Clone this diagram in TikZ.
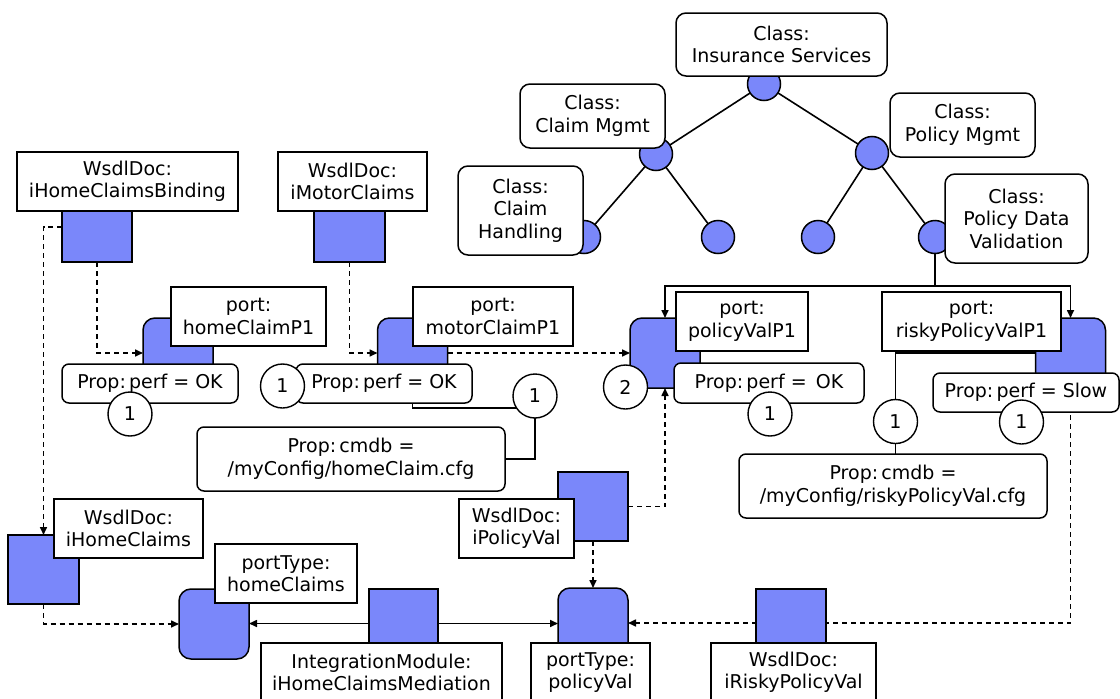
\documentclass[tikz,border=0pt]{standalone}
\usepackage{fontspec}
\setmainfont{DejaVu Sans}
\usetikzlibrary{arrows.meta,calc}
\definecolor{nodeblue}{RGB}{122,135,250}
\pgfdeclarelayer{background}
\pgfsetlayers{background,main}
\begin{document}
\begin{tikzpicture}[x=1pt,y=-1pt,
  font=\fontsize{19}{22.5}\selectfont,
  every node/.style={inner sep=0pt, outer sep=0pt, align=center},
  lbl/.style={draw, line width=1.5pt, fill=white},
  cls/.style={lbl, rounded corners=10pt},
  prop/.style={lbl, rounded corners=7pt},
  blk/.style={draw, line width=1.5pt, fill=nodeblue},
  port/.style={blk, rounded corners=12pt, minimum width=70pt, minimum height=70pt},
  leaf/.style={circle, blk, minimum size=33pt},
  num/.style={circle, draw, line width=1.4pt, fill=white, minimum size=44pt},
  link/.style={line width=1.6pt},
  dep/.style={link, dash pattern=on 5pt off 4pt},
  tip/.style={-{Triangle[length=8pt,width=7pt]}},
]
\useasboundingbox (0,0) rectangle (1120,699);

% ---- class hierarchy ----
\node[leaf] (t0) at (764,84) {};
\node[leaf] (t1) at (656,154) {};
\node[leaf] (t2) at (872,153) {};
\node[leaf] (t3) at (584,237) {};
\node[leaf] (t4) at (718,237) {};
\node[leaf] (t5) at (818,237) {};
\node[leaf] (t6) at (935,237) {};
\begin{pgfonlayer}{background}
\draw[link] (t0) -- (t1);
\draw[link] (t0) -- (t2);
\draw[link] (t1) -- (t3);
\draw[link] (t1) -- (t4);
\draw[link] (t2) -- (t5);
\draw[link] (t2) -- (t6);
\end{pgfonlayer}

\node[cls, minimum width=211pt, minimum height=63pt] (ins) at (781.5,44.5) {Class:\\Insurance Services};
\node[cls, minimum width=145pt, minimum height=64pt] (cm) at (592.5,116) {Class:\\Claim Mgmt};
\node[cls, minimum width=145pt, minimum height=64pt] (pm) at (962.5,125) {Class:\\Policy Mgmt};
\node[cls, minimum width=125pt, minimum height=89pt] (ch) at (520.5,210.5) {Class:\\Claim\\Handling};
\node[cls, minimum width=143pt, minimum height=89pt] (pdv) at (1016.5,218.5) {Class:\\Policy Data\\Validation};

% ---- blue blocks ----
\node[blk, minimum width=70pt, minimum height=51pt] (sA) at (97,236.5) {};
\node[blk, minimum width=71pt, minimum height=51pt] (sB) at (349.5,236.5) {};
\node[blk, minimum width=71pt, minimum height=69pt] (sC) at (43.5,569.5) {};
\node[blk, minimum width=70pt, minimum height=69pt] (sD) at (593,506.5) {};
\node[blk, minimum width=70pt, minimum height=69pt] (sE) at (791,623.5) {};
\node[blk, minimum width=69pt, minimum height=69pt] (sM) at (403.5,623.5) {};

\node[port] (q1) at (178,353) {};
\node[port] (q2) at (412.5,353) {};
\node[port] (q3) at (665,353) {};
\node[port] (q4) at (1070.5,353) {};
\node[port] (q5) at (214,624) {};
\node[port] (q6) at (593,623) {};

% ---- labels ----
\node[lbl, minimum width=221pt, minimum height=59pt] (wA) at (127.5,181.5) {WsdlDoc:\\iHomeClaimsBinding};
\node[lbl, minimum width=149pt, minimum height=59pt] (wB) at (352.5,181.5) {WsdlDoc:\\iMotorClaims};
\node[lbl, minimum width=149pt, minimum height=59pt] (wC) at (128.5,528.5) {WsdlDoc:\\iHomeClaims};
\node[lbl, minimum width=115pt, minimum height=59pt] (wD) at (516.5,528.5) {WsdlDoc:\\iPolicyVal};
\node[lbl, minimum width=165pt, minimum height=59pt] (wE) at (793.5,672.5) {WsdlDoc:\\iRiskyPolicyVal};

\node[lbl, minimum width=155pt, minimum height=59pt] (p1) at (248.5,316.5) {port:\\homeClaimP1};
\node[lbl, minimum width=160pt, minimum height=59pt] (p2) at (493,316.5) {port:\\motorClaimP1};
\node[lbl, minimum width=132pt, minimum height=59pt] (p3) at (742,321.5) {port:\\policyValP1};
\node[lbl, minimum width=179pt, minimum height=59pt] (p4) at (971.5,321.5) {port:\\riskyPolicyValP1};

\node[lbl, minimum width=142pt, minimum height=59pt] (pt1) at (286,573.5) {portType:\\homeClaims};
\node[lbl, minimum width=119pt, minimum height=59pt] (pt2) at (590.5,672.5) {portType:\\policyVal};
\node[lbl, minimum width=241pt, minimum height=59pt] (im) at (381.5,672.5) {IntegrationModule:\\iHomeClaimsMediation};

% ---- properties ----
\node[prop, minimum width=176pt, minimum height=39pt] (r1) at (150,383.5) {Prop:\,perf = OK};
\node[prop, minimum width=176pt, minimum height=39pt] (r2) at (384,383.5) {Prop:\,perf = OK};
\node[prop, minimum width=190pt, minimum height=40pt] (r3) at (769,383) {Prop:\,perf = \,OK};
\node[prop, minimum width=186pt, minimum height=39pt] (r4) at (1026,392.5) {Prop:\,perf = Slow};
\node[prop, minimum width=308pt, minimum height=64pt] (k1) at (351,459) {Prop:\,cmdb =\\/myConfig/homeClaim.cfg};
\node[prop, minimum width=308pt, minimum height=64pt] (k2) at (893,486) {Prop:\,cmdb =\\/myConfig/riskyPolicyVal.cfg};

% ---- multiplicities ----
\node[num] (n1) at (130,414) {1};
\node[num] (n2) at (282.5,386) {1};
\node[num] (n3) at (535,396) {1};
\node[num] (n4) at (625.5,387) {2};
\node[num] (n5) at (770,414) {1};
\node[num] (n6) at (895.5,421.5) {1};
\node[num] (n7) at (1021.5,422) {1};

% ---- connectors ----
\coordinate (split) at (935,286);
\begin{pgfonlayer}{background}
\draw[link] (t6) -- (split);
\draw[link,tip] (split) -| (q3.north);
\draw[link,tip] (split) -| (q4.north);

\draw[dep,tip] ($(sA.north west)!0.31!(sA.south west)$) -| (sC.north);
\draw[dep,tip] (sA.south) |- (q1.west);
\draw[dep,tip] (sB.south) |- (q2.west);
\draw[dep,tip] (q2.east) -- (q3.west);
\draw[dep,tip] (sD.east) -| (q3.south);
\draw[dep,tip] (sD.south) -- (q6.north);
\draw[dep,tip] (sC.south) |- (q5.west);
\draw[dep,tip] (q4.south) |- (q6.east);
\draw[link,tip] (sM.west) -- (q5.east |- sM.west);
\draw[link,tip] (sM.east) -- (q6.west |- sM.east);

\draw[link] (q2.south) |- ([yshift=-12pt]n3.center);
\draw[link] (n3.south) |- (k1.east);
\draw[link] (q4.west) -| (n6.north);
\draw[link] (n6.south) -- (n6.south |- k2.north);
\end{pgfonlayer}
\end{tikzpicture}
\end{document}
